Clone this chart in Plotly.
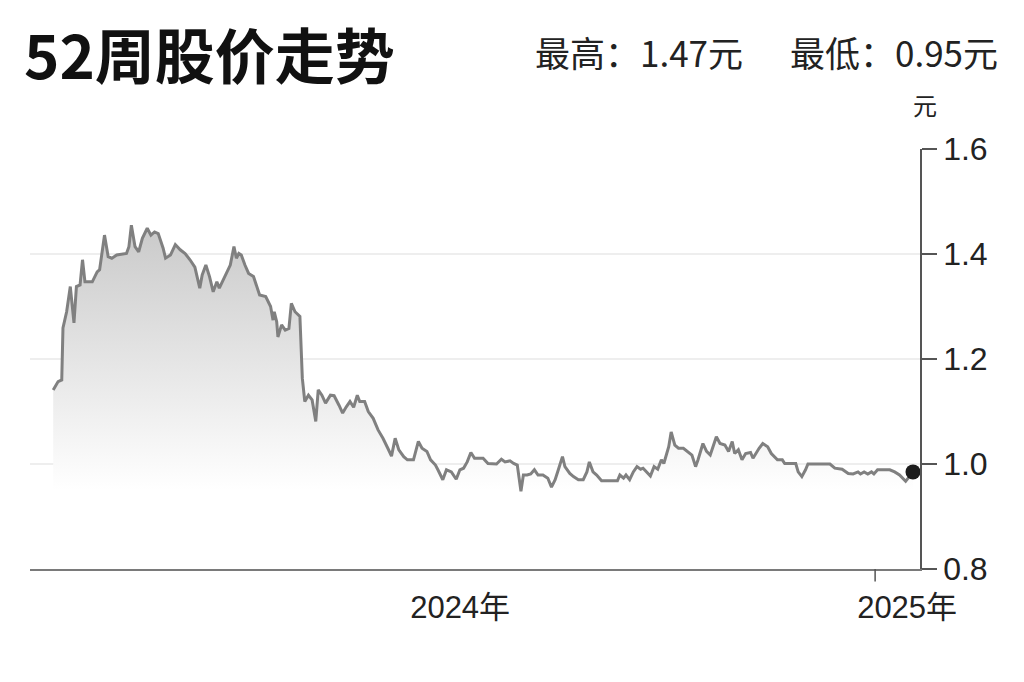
import plotly.graph_objects as go

dates = [
    "2023-02-28", "2023-03-04", "2023-03-07", "2023-03-08", "2023-03-11", "2023-03-14", "2023-03-17",
    "2023-03-19", "2023-03-22", "2023-03-24", "2023-03-26", "2023-04-01", "2023-04-05", "2023-04-07",
    "2023-04-11", "2023-04-14", "2023-04-17", "2023-04-21", "2023-04-29", "2023-05-01", "2023-05-03",
    "2023-05-06", "2023-05-09", "2023-05-12", "2023-05-16", "2023-05-19", "2023-05-22", "2023-05-25",
    "2023-05-29", "2023-05-31", "2023-06-04", "2023-06-08", "2023-06-12", "2023-06-16", "2023-06-20",
    "2023-06-24", "2023-06-28", "2023-06-30", "2023-07-03", "2023-07-06", "2023-07-09", "2023-07-12",
    "2023-07-14", "2023-07-17", "2023-07-20", "2023-07-23", "2023-07-26", "2023-07-28", "2023-07-30",
    "2023-08-01", "2023-08-04", "2023-08-07", "2023-08-11", "2023-08-14", "2023-08-16", "2023-08-21",
    "2023-08-25", "2023-08-27", "2023-08-28", "2023-08-30", "2023-08-31", "2023-09-03", "2023-09-06",
    "2023-09-09", "2023-09-11", "2023-09-14", "2023-09-18", "2023-09-20", "2023-09-22", "2023-09-25",
    "2023-09-28", "2023-10-01", "2023-10-03", "2023-10-06", "2023-10-09", "2023-10-13", "2023-10-16",
    "2023-10-20", "2023-10-23", "2023-10-26", "2023-10-29", "2023-11-01", "2023-11-04", "2023-11-06",
    "2023-11-10", "2023-11-13", "2023-11-17", "2023-11-21", "2023-11-25", "2023-11-29", "2023-12-02",
    "2023-12-05", "2023-12-08", "2023-12-12", "2023-12-15", "2023-12-20", "2023-12-24", "2023-12-27",
    "2023-12-31", "2024-01-03", "2024-01-07", "2024-01-09", "2024-01-13", "2024-01-16", "2024-01-20",
    "2024-01-24", "2024-01-27", "2024-01-30", "2024-02-02", "2024-02-05", "2024-02-08", "2024-02-15",
    "2024-02-19", "2024-02-26", "2024-03-01", "2024-03-04", "2024-03-08", "2024-03-11", "2024-03-14",
    "2024-03-17", "2024-03-19", "2024-03-22", "2024-03-25", "2024-03-28", "2024-03-31", "2024-04-04",
    "2024-04-08", "2024-04-11", "2024-04-14", "2024-04-17", "2024-04-20", "2024-04-22", "2024-04-26",
    "2024-04-29", "2024-05-03", "2024-05-07", "2024-05-10", "2024-05-12", "2024-05-15", "2024-05-18",
    "2024-05-22", "2024-06-04", "2024-06-06", "2024-06-09", "2024-06-11", "2024-06-14", "2024-06-17",
    "2024-06-20", "2024-06-23", "2024-06-25", "2024-06-28", "2024-07-01", "2024-07-04", "2024-07-07",
    "2024-07-10", "2024-07-12", "2024-07-16", "2024-07-18", "2024-07-21", "2024-07-24", "2024-07-28",
    "2024-07-31", "2024-08-04", "2024-08-07", "2024-08-09", "2024-08-13", "2024-08-16", "2024-08-19",
    "2024-08-24", "2024-08-27", "2024-08-31", "2024-09-03", "2024-09-06", "2024-09-08", "2024-09-11",
    "2024-09-14", "2024-09-17", "2024-09-21", "2024-09-23", "2024-09-28", "2024-10-01", "2024-10-05",
    "2024-10-08", "2024-10-13", "2024-10-17", "2024-10-19", "2024-10-28", "2024-10-30", "2024-11-02",
    "2024-11-05", "2024-11-07", "2024-11-25", "2024-11-29", "2024-12-05", "2024-12-10", "2024-12-14",
    "2024-12-18", "2024-12-20", "2024-12-23", "2024-12-26", "2024-12-29", "2024-12-31", "2025-01-03",
    "2025-01-13", "2025-01-17", "2025-01-21", "2025-01-24", "2025-01-26", "2025-02-01",
]

prices = [
    1.141, 1.157, 1.160, 1.259, 1.290, 1.338, 1.269,
    1.338, 1.341, 1.389, 1.347, 1.347, 1.366, 1.370,
    1.436, 1.395, 1.392, 1.398, 1.401, 1.414, 1.455,
    1.414, 1.404, 1.430, 1.449, 1.436, 1.442, 1.439,
    1.411, 1.392, 1.398, 1.418, 1.408, 1.401, 1.389,
    1.375, 1.335, 1.360, 1.379, 1.357, 1.328, 1.347,
    1.335, 1.350, 1.366, 1.379, 1.414, 1.392, 1.401,
    1.398, 1.379, 1.363, 1.357, 1.335, 1.322, 1.319,
    1.300, 1.274, 1.290, 1.271, 1.242, 1.265, 1.255,
    1.258, 1.306, 1.290, 1.281, 1.163, 1.119, 1.131,
    1.122, 1.081, 1.141, 1.131, 1.116, 1.131, 1.130,
    1.112, 1.097, 1.109, 1.119, 1.108, 1.131, 1.119,
    1.119, 1.100, 1.087, 1.065, 1.049, 1.030, 1.015,
    1.049, 1.027, 1.014, 1.008, 1.008, 1.043, 1.030,
    1.024, 1.008, 0.998, 0.989, 0.970, 0.989, 0.985,
    0.971, 0.989, 0.992, 1.004, 1.022, 1.011, 1.011,
    1.001, 1.000, 1.009, 1.004, 1.006, 1.001, 0.998,
    0.948, 0.979, 0.979, 0.981, 0.989, 0.979, 0.979,
    0.973, 0.956, 0.970, 0.992, 1.014, 0.995, 0.982,
    0.976, 0.970, 0.970, 0.985, 1.004, 0.985, 0.979,
    0.968, 0.968, 0.979, 0.973, 0.979, 0.970, 0.985,
    0.995, 0.990, 0.992, 0.985, 0.977, 0.995, 0.990,
    1.008, 1.001, 1.033, 1.061, 1.036, 1.030, 1.030,
    1.024, 1.017, 0.995, 1.008, 1.039, 1.024, 1.017,
    1.052, 1.039, 1.036, 1.024, 1.043, 1.020, 1.027,
    1.008, 1.020, 1.022, 1.011, 1.030, 1.039, 1.033,
    1.020, 1.008, 1.008, 1.001, 1.001, 0.985, 0.976,
    0.989, 1.000, 1.000, 0.992, 0.990, 0.982, 0.981,
    0.985, 0.981, 0.985, 0.981, 0.985, 0.981, 0.989,
    0.989, 0.985, 0.979, 0.971, 0.967, 0.985,
]

year_ticks = ["2024-01-01", "2025-01-01"]
year_labels = ["2024年", "2025年"]
y_ticks = [0.8, 1.0, 1.2, 1.4, 1.6]
title_text = "52周股价走势"
high_text = "最高：1.47元"
low_text = "最低：0.95元"
unit_text = "元"

fig = go.Figure()
fig.add_trace(go.Scatter(
    x=dates, y=prices, mode="lines",
    line=dict(color="#808080", width=3),
    fill="tozeroy",
    fillgradient=dict(type="vertical", start=0.95, stop=1.47,
                      colorscale=[[0, "rgba(255,255,255,1)"], [1, "rgba(200,200,200,1)"]]),
    hoverinfo="skip", showlegend=False,
))
fig.add_trace(go.Scatter(
    x=[dates[-1]], y=[prices[-1]], mode="markers",
    marker=dict(color="#1c1c1c", size=15),
    cliponaxis=False, showlegend=False, hoverinfo="skip",
))

fig.update_layout(
    width=1024, height=682,
    margin=dict(l=22, r=112, t=141, b=121),
    paper_bgcolor="white", plot_bgcolor="white",
    font=dict(family="Liberation Sans, Noto Sans CJK SC, sans-serif", color="#222"),
    xaxis=dict(
        type="date",
        range=["2023-02-09", "2025-02-06 18:00"],
        tickvals=year_ticks, ticktext=year_labels,
        ticks="", ticklabelshift=32, ticklabelstandoff=10,
        tickfont=dict(size=31, color="#222", family="Liberation Sans, Noto Sans CJK SC"),
        showgrid=False, showline=True, linecolor="#7a7a7a", linewidth=1.5,
        zeroline=False,
    ),
    yaxis=dict(
        side="right", range=[0.8, 1.6],
        tickvals=y_ticks, tickformat=".1f",
        ticks="outside", ticklen=15, tickcolor="#555", tickwidth=1.5,
        tickfont=dict(size=32, color="#222", family="Liberation Sans"),
        showline=True, linecolor="#555", linewidth=1.5,
        showgrid=True, gridcolor="#eeeeee", gridwidth=1.5,
        zeroline=False,
    ),
    shapes=[dict(type="line", xref="x", yref="paper", x0=year_ticks[1], x1=year_ticks[1],
                 y0=0, y1=-0.03, line=dict(color="#555", width=1.5))],
    annotations=[
        dict(text=title_text, xref="paper", yref="paper", x=-0.009, y=1.229,
             xanchor="left", yanchor="middle", showarrow=False,
             font=dict(family="Noto Sans CJK SC", size=60, color="#111", weight="bold")),
        dict(text=high_text, xref="paper", yref="paper", x=0.8034, y=1.233,
             xanchor="right", yanchor="middle", showarrow=False,
             font=dict(family="Noto Sans CJK SC", size=35, color="#222")),
        dict(text=low_text, xref="paper", yref="paper", x=1.0899, y=1.233,
             xanchor="right", yanchor="middle", showarrow=False,
             font=dict(family="Noto Sans CJK SC", size=35, color="#222")),
        dict(text=unit_text, xref="paper", yref="paper", x=1.0056, y=1.105,
             xanchor="center", yanchor="middle", showarrow=False,
             font=dict(family="Noto Sans CJK SC", size=24, color="#222")),
    ],
)

fig.write_html("out.html")
